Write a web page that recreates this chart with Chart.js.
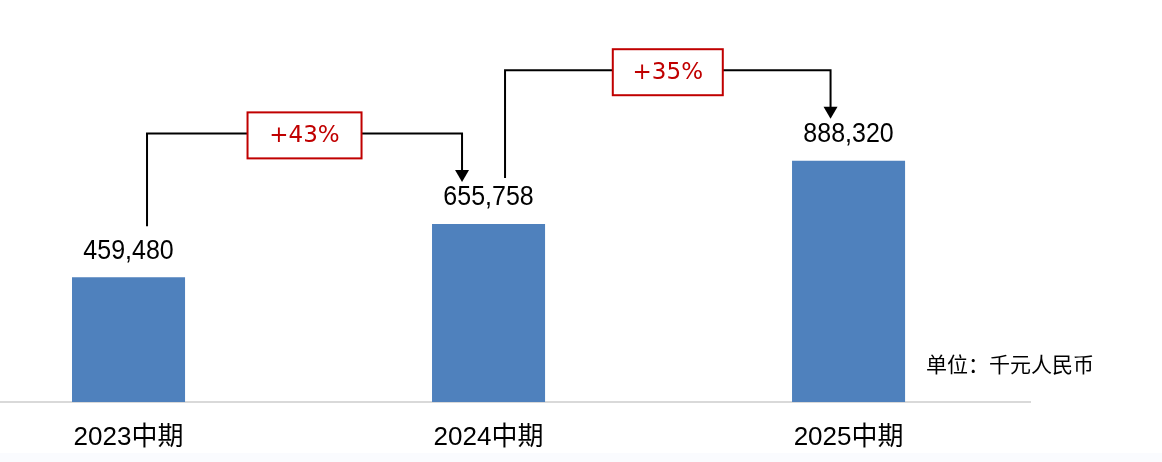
<!DOCTYPE html>
<html>
<head>
<meta charset="utf-8">
<script src="https://cdn.jsdelivr.net/npm/chart.js@4/dist/chart.umd.min.js"></script>
<style>
  html, body { margin: 0; padding: 0; background: #ffffff; }
  body { width: 1162px; height: 462px; overflow: hidden;
         background: linear-gradient(to bottom, #ffffff 0, #ffffff 453px, #fafbfe 453px, #fafbfe 462px); }
  #wrap { position: relative; width: 1162px; height: 462px; }
</style>
</head>
<body>
<div id="wrap"><canvas id="c" width="1162" height="462"></canvas></div>
<script>
// ---- data ----
const categories = ['2023中期', '2024中期', '2025中期'];
const revenue = [459480, 655758, 888320];
const growthLabels = ['+43%', '+35%'];
const unitLabel = '单位：千元人民币';

// ---- annotation plugin (connectors, growth boxes, value labels) ----
const annotatePlugin = {
  id: 'annotate',
  afterDatasetsDraw(chart, args, opts) {
    const ctx = chart.ctx;
    const bars = chart.getDatasetMeta(0).data;
    ctx.save();

    // value labels
    bars.forEach((bar, i) => {
      const txt = revenue[i].toLocaleString('en-US');
      ctx.save();
      ctx.translate(bar.x, bar.y - 18.5);
      ctx.scale(1, 1.12);
      ctx.font = '25px "Liberation Sans", Arial, sans-serif';
      ctx.fillStyle = '#000000';
      ctx.textAlign = 'center';
      ctx.textBaseline = 'alphabetic';
      ctx.fillText(txt, 0, 0);
      ctx.restore();
    });

    // growth connectors
    opts.links.forEach((lk, i) => {
      const a = bars[i], b = bars[i + 1];
      const sx = a.x + lk.startDx;
      const sy = a.y - lk.startGap;
      const ex = b.x + lk.endDx;
      const hy = b.y - 90.5;
      const tipY = b.y - 42;
      const ah = 12, aw = 7;

      ctx.strokeStyle = '#000000';
      ctx.lineWidth = 2;
      ctx.lineJoin = 'miter';
      ctx.beginPath();
      ctx.moveTo(sx, sy);
      ctx.lineTo(sx, hy);
      ctx.lineTo(ex, hy);
      ctx.lineTo(ex, tipY - ah + 1);
      ctx.stroke();

      ctx.fillStyle = '#000000';
      ctx.beginPath();
      ctx.moveTo(ex - aw, tipY - ah);
      ctx.lineTo(ex + aw, tipY - ah);
      ctx.lineTo(ex, tipY);
      ctx.closePath();
      ctx.fill();

      // box
      const cx = (sx + ex) / 2;
      const cy = hy + 2;
      const bw = lk.boxW, bh = 46;
      ctx.fillStyle = '#ffffff';
      ctx.fillRect(cx - bw / 2, cy - bh / 2, bw, bh);
      ctx.strokeStyle = '#c00000';
      ctx.lineWidth = 2;
      ctx.strokeRect(cx - bw / 2, cy - bh / 2, bw, bh);

      ctx.fillStyle = '#c00000';
      ctx.font = '23px "DejaVu Sans", sans-serif';
      ctx.textAlign = 'center';
      ctx.textBaseline = 'middle';
      ctx.fillText(growthLabels[i], cx, cy + 1);
    });

    // unit label
    const area = chart.chartArea;
    ctx.fillStyle = '#000000';
    ctx.font = '21px "Noto Sans CJK SC", sans-serif';
    ctx.textAlign = 'left';
    ctx.textBaseline = 'middle';
    ctx.fillText(unitLabel, area.right - 104, area.bottom - 38);

    ctx.restore();
  }
};

// x positions: linear scale so category spacing can match the original layout
const xMin = -0.357;
const xMax = 2.504;

new Chart(document.getElementById('c'), {
  type: 'bar',
  data: {
    datasets: [{
      data: revenue.map((v, i) => ({ x: i, y: v })),
      backgroundColor: '#4f81bd',
      borderWidth: 0,
      barPercentage: 0.314,
      categoryPercentage: 1.0
    }]
  },
  options: {
    responsive: false,
    animation: false,
    devicePixelRatio: 1,
    layout: { padding: { left: 0, right: 132, top: 0, bottom: 9 } },
    plugins: {
      legend: { display: false },
      tooltip: { enabled: false },
      annotate: {
        links: [
          { startDx: 18.5, startGap: 51, endDx: -26.5, boxW: 114 },
          { startDx: 16.5, startGap: 46, endDx: -18, boxW: 110 }
        ]
      }
    },
    scales: {
      x: {
        type: 'linear',
        offset: false,
        min: xMin,
        max: xMax,
        grid: { display: false, drawTicks: false },
        border: { display: true, color: '#d9d9d9', width: 2 },
        afterFit: (scale) => { scale.height = 51; },
        ticks: {
          stepSize: 1,
          includeBounds: false,
          autoSkip: false,
          maxRotation: 0,
          padding: 20,
          color: '#000000',
          font: { family: '"Liberation Sans", "Noto Sans CJK SC", sans-serif', size: 26 },
          callback: (v) => (Number.isInteger(v) && categories[v] !== undefined) ? categories[v] : ''
        }
      },
      y: {
        display: false,
        min: 0,
        max: 1480000
      }
    }
  },
  plugins: [annotatePlugin]
});
</script>
</body>
</html>
